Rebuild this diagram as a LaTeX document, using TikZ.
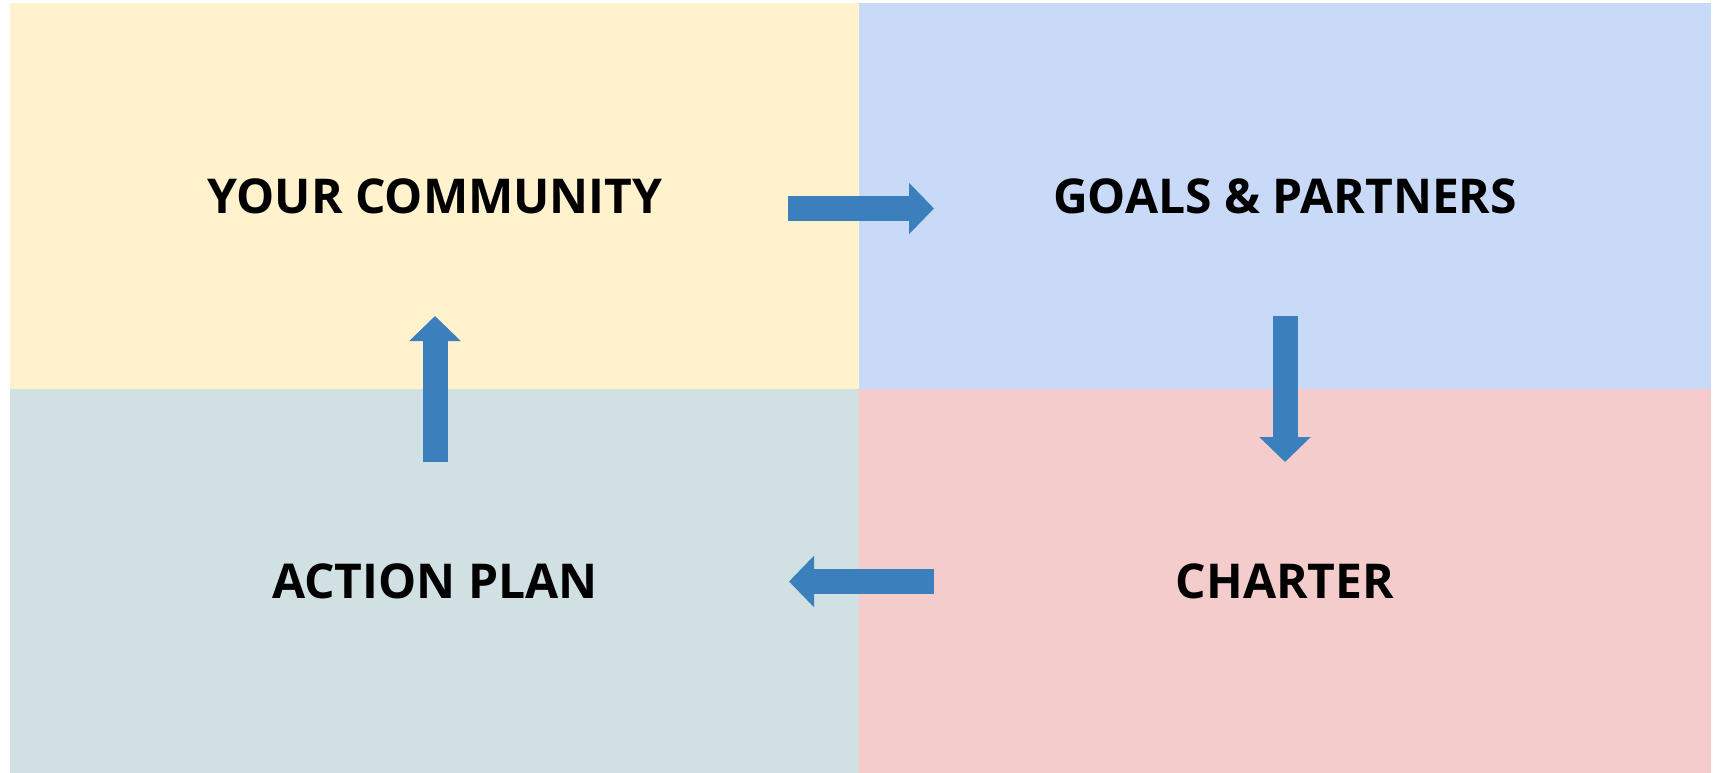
\documentclass[tikz,border=0pt]{standalone}
\usepackage{fontspec}
\newfontfamily\quadfont{Open Sans}
\usepackage{tikz}
\usetikzlibrary{arrows.meta, positioning}
\definecolor{quadYellow}{HTML}{FFF2CC}
\definecolor{quadBlue}{HTML}{C9DAF8}
\definecolor{quadGrey}{HTML}{D0E0E3}
\definecolor{quadPink}{HTML}{F4CCCC}
\definecolor{arrowBlue}{HTML}{3B80BC}
\tikzstyle{quad} = [rectangle, inner sep=0pt, minimum width=850pt, minimum height=385pt, text height=34.5pt, text depth=0pt, align=center, font=\quadfont\bfseries\fontsize{48}{58}\selectfont]
\tikzset{
	blockarrow/.style = {draw=arrowBlue, line width=25pt,
		-{Triangle[length=25pt, width=50pt]}}
}

\begin{document}
\begin{tikzpicture}[x=1pt, y=-1pt]
\useasboundingbox (0,0) rectangle (1715,773);
%----------------------------------------------------------------------------
% Quadrants
\node (community) [quad, fill=quadYellow, minimum width=850pt, minimum height=386pt] at (435,196) {YOUR COMMUNITY};
\node (goals) [quad, fill=quadBlue, minimum width=852pt, minimum height=386pt] at (1285,196) {GOALS \& PARTNERS};
\node (action) [quad, fill=quadGrey, minimum width=850pt, minimum height=384pt] at (435,581) {ACTION PLAN};
\node (charter) [quad, fill=quadPink, minimum width=852pt, minimum height=384pt] at (1285,581) {CHARTER};

%----------------------------------------------------------------------------
% Arrow ends
\coordinate (communityOut) at (788,208.5);
\coordinate (goalsIn) at (934,208.5);
\coordinate (goalsOut) at (1285,316);
\coordinate (charterIn) at (1285,462);
\coordinate (charterOut) at (934,581.5);
\coordinate (actionIn) at (789,581.5);
\coordinate (actionOut) at (435,462);
\coordinate (communityIn) at (435,316);

%----------------------------------------------------------------------------
% Arrows
\draw [blockarrow] (communityOut) -- (goalsIn);
\draw [blockarrow] (goalsOut) -- (charterIn);
\draw [blockarrow] (charterOut) -- (actionIn);
\draw [blockarrow] (actionOut) -- (communityIn);

\end{tikzpicture}
\end{document}
